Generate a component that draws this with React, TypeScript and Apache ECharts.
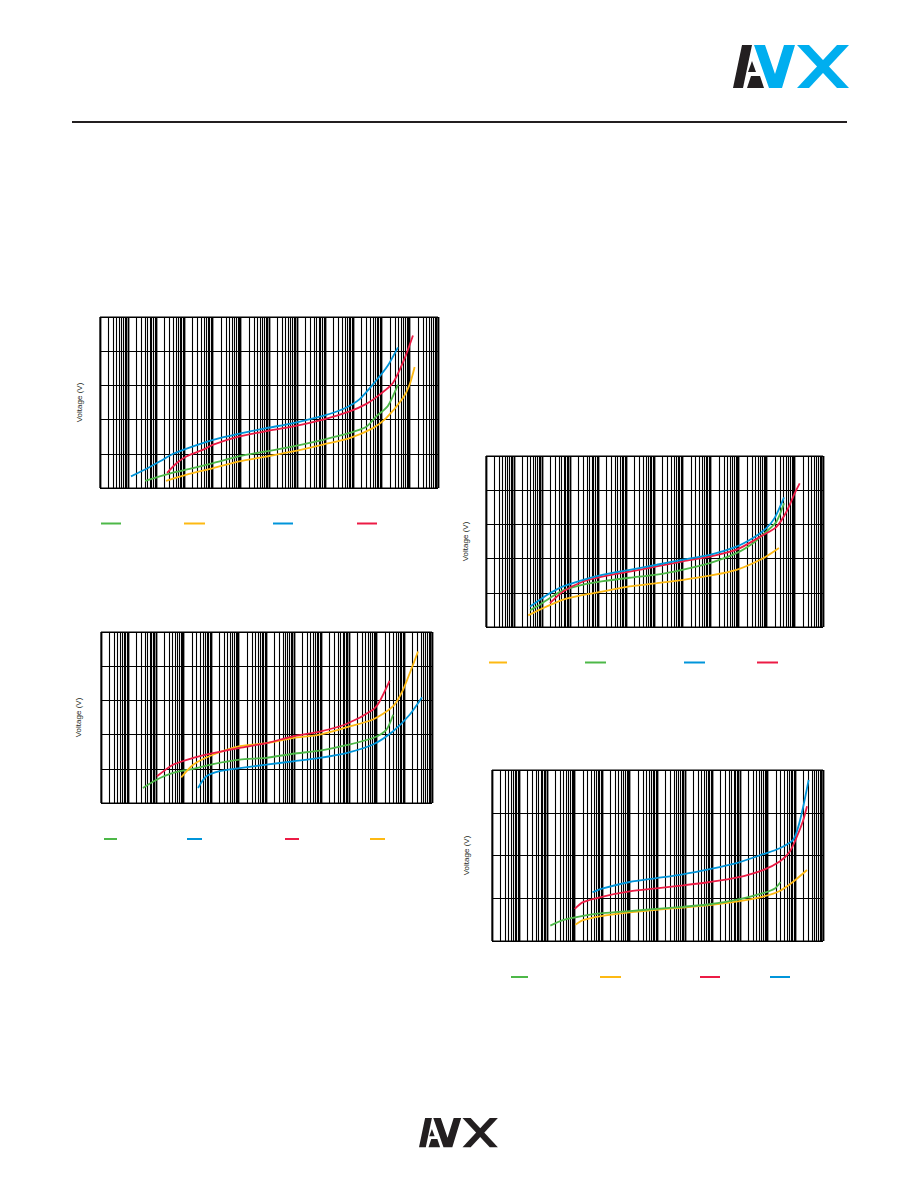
import React, { useEffect, useRef } from "react";
import * as echarts from "echarts";

// ---------- colours ----------
const GREEN = "#4DB848";
const YELLOW = "#FDB913";
const BLUE = "#0095DA";
const RED = "#EC1B45";
const LOGO_BLUE = "#00AEEF";
const INK = "#231F20";

// ---------- axis ranges ----------
const X_MIN = 1e-9; // A
const X_MAX = 1e3; // A
const Y_AXIS_NAME = "Voltage (V)";

// ---------- chart 1 (top left) ----------
const c1BlueI = [1.26e-8, 4e-8, 1.35e-7, 4e-7, 2e-6, 1.05e-5, 9e-5, 8e-4, 7.2e-3, 0.083, 0.43, 1.66, 6.5, 16.6, 38];
const c1BlueV = [6.8, 10.8, 15.6, 20, 24.4, 28.2, 31.8, 35, 38, 42.2, 46.2, 52, 63, 71.6, 82.2];
const c1RedI = [2.4e-7, 5.3e-7, 1.2e-6, 4.6e-6, 1.05e-5, 9e-5, 8e-4, 7.2e-3, 0.083, 0.73, 2.86, 8.5, 25, 66, 129];
const c1RedV = [8.8, 14.6, 18.6, 22.4, 25.4, 30.2, 33.2, 36, 40, 44.8, 49.2, 54.6, 61.4, 76, 89.2];
const c1GreenI = [4e-8, 3e-7, 2e-6, 1.05e-5, 9e-5, 8e-4, 7.2e-3, 0.083, 0.73, 2.86, 6.5, 16.6, 38];
const c1GreenV = [4.2, 8.4, 11.6, 14.6, 18.6, 21.4, 24.4, 28.2, 32.2, 35.8, 42, 48, 60.4];
const c1YellowI = [2.2e-7, 1.2e-6, 1.05e-5, 9e-5, 8e-4, 7.2e-3, 0.083, 0.73, 4.9, 14.7, 57, 98, 148];
const c1YellowV = [4.2, 7.8, 11.6, 15.6, 18.4, 21.4, 25.4, 29.2, 35, 41, 52.6, 60.4, 70.8];

// ---------- chart 2 (top right) ----------
const c2BlueI = [3.7e-8, 8.3e-8, 1.9e-7, 5.6e-7, 2.9e-6, 1.5e-5, 1.3e-4, 1.2e-3, 0.0105, 0.093, 0.83, 3.2, 9.6, 19, 41];
const c2BlueV = [12, 16, 19.8, 23.8, 27.6, 30.6, 33.4, 36.4, 39.4, 42.2, 47, 52, 57.8, 63.8, 75.8];
const c2RedI = [1.9e-7, 5.6e-7, 2.9e-6, 1.5e-5, 1.3e-4, 1.2e-3, 0.0105, 0.093, 0.83, 7.4, 22, 50, 98, 148];
const c2RedV = [14, 20.8, 26.6, 29.6, 32.4, 35.4, 38.4, 41.2, 45.2, 53.8, 58.6, 67.4, 78.2, 84];
const c2GreenI = [3.7e-8, 8.3e-8, 1.9e-7, 5.6e-7, 2.9e-6, 1.5e-5, 1.3e-4, 1.2e-3, 0.0105, 0.093, 0.83, 3.2, 9.6, 22, 41];
const c2GreenV = [9.8, 13, 17, 21.4, 24.8, 26.8, 28.8, 30.6, 33.6, 37.4, 43.2, 49, 55.8, 61.6, 72.4];
const c2YellowI = [3.2e-8, 8.3e-8, 5.6e-7, 2.9e-6, 1.5e-5, 1.3e-4, 1.2e-3, 0.0105, 0.093, 0.83, 7.4, 27];
const c2YellowV = [6.8, 10.2, 16, 18.8, 20.8, 23.8, 25.6, 27.6, 30, 33.4, 40.2, 46.2];

// ---------- chart 3 (middle left) ----------
const c3RedI = [1.07e-7, 4.1e-7, 2.2e-6, 1.15e-5, 1.07e-4, 9.8e-4, 9.1e-3, 0.085, 0.78, 7.2, 12.6, 29];
const c3RedV = [15.6, 22.4, 26.4, 29.2, 32.2, 35, 39, 41.8, 46.2, 54.6, 59.4, 71.4];
const c3YellowI = [8.1e-7, 2.2e-6, 1.15e-5, 1.07e-4, 9.8e-4, 9.1e-3, 0.085, 0.78, 7.2, 39, 89, 204, 311];
const c3YellowV = [15, 22.4, 28.2, 33.2, 35, 38, 40, 44.2, 48.8, 56.6, 66.2, 80.8, 88.6];
const c3GreenI = [3.3e-8, 1.03e-7, 4.1e-7, 2.2e-6, 1.15e-5, 1.07e-4, 9.8e-4, 9.1e-3, 0.085, 0.78, 7.2, 22, 39];
const c3GreenV = [8.8, 13.6, 17.6, 20, 22.8, 25.4, 26.4, 28.8, 30.6, 33.8, 38, 42.8, 51.6];
const c3BlueI = [3.3e-6, 6.6e-6, 2e-5, 1.07e-4, 9.8e-4, 9.1e-3, 0.085, 0.78, 7.2, 39, 155, 436];
const c3BlueV = [8.8, 15.6, 18.6, 20.4, 22.4, 24.4, 26.4, 29.2, 34.2, 42, 51.6, 61.8];

// ---------- chart 4 (bottom right) ----------
const c4BlueI = [4.4e-6, 1.05e-5, 9.8e-5, 9.1e-4, 8.3e-3, 0.078, 0.72, 6.7, 27, 81, 123, 187, 302];
const c4BlueV = [22.8, 24.6, 27.6, 29.4, 31.2, 33.6, 36.4, 40.6, 43.4, 47.2, 52.8, 62.2, 75.4];
const c4RedI = [1e-6, 2e-6, 1.05e-5, 9.8e-5, 9.1e-4, 8.3e-3, 0.078, 0.72, 6.7, 27, 62, 108, 187, 263];
const c4RedV = [15, 18.2, 20.8, 23.2, 24.6, 26, 27.6, 29.6, 33.2, 37.2, 41.8, 48.2, 56, 63];
const c4GreenI = [1.3e-7, 3.7e-7, 2e-6, 1.05e-5, 9.8e-5, 9.1e-4, 8.3e-3, 0.078, 0.72, 6.7, 18, 29];
const c4GreenV = [7.2, 9.8, 11.8, 13, 14, 15, 16, 17.2, 19.2, 22.4, 24.6, 27.6];
const c4YellowI = [1.05e-6, 2e-6, 1.05e-5, 9.8e-5, 9.1e-4, 8.3e-3, 0.078, 0.72, 6.7, 27, 81, 263];
const c4YellowV = [7.6, 9.8, 11.8, 13.4, 14.6, 15.6, 16.8, 18.4, 20.8, 23.4, 27.6, 33.2];

// ---------- chart definitions (layout) ----------
type Curve = { color: string; i: number[]; v: number[] };
type ChartDef = {
  rect: { left: number; top: number; width: number; height: number };
  yMax: number;
  nameGap: number;
  curves: Curve[];
  legendY: number;
  legend: { color: string; x1: number; x2: number }[];
};

const charts: ChartDef[] = [
  {
    rect: { left: 100, top: 317, width: 338, height: 171 },
    yMax: 100,
    nameGap: 17,
    curves: [
      { color: GREEN, i: c1GreenI, v: c1GreenV },
      { color: YELLOW, i: c1YellowI, v: c1YellowV },
      { color: RED, i: c1RedI, v: c1RedV },
      { color: BLUE, i: c1BlueI, v: c1BlueV },
    ],
    legendY: 523.5,
    legend: [
      { color: GREEN, x1: 101, x2: 121 },
      { color: YELLOW, x1: 184, x2: 205 },
      { color: BLUE, x1: 273, x2: 293 },
      { color: RED, x1: 357, x2: 377 },
    ],
  },
  {
    rect: { left: 486, top: 456, width: 337, height: 171 },
    yMax: 100,
    nameGap: 17,
    curves: [
      { color: YELLOW, i: c2YellowI, v: c2YellowV },
      { color: GREEN, i: c2GreenI, v: c2GreenV },
      { color: RED, i: c2RedI, v: c2RedV },
      { color: BLUE, i: c2BlueI, v: c2BlueV },
    ],
    legendY: 662.5,
    legend: [
      { color: YELLOW, x1: 489, x2: 507 },
      { color: GREEN, x1: 585, x2: 606 },
      { color: BLUE, x1: 684, x2: 705 },
      { color: RED, x1: 757, x2: 778 },
    ],
  },
  {
    rect: { left: 101, top: 632, width: 331, height: 171 },
    yMax: 100,
    nameGap: 19,
    curves: [
      { color: GREEN, i: c3GreenI, v: c3GreenV },
      { color: BLUE, i: c3BlueI, v: c3BlueV },
      { color: YELLOW, i: c3YellowI, v: c3YellowV },
      { color: RED, i: c3RedI, v: c3RedV },
    ],
    legendY: 839,
    legend: [
      { color: GREEN, x1: 104, x2: 117 },
      { color: BLUE, x1: 187, x2: 202 },
      { color: RED, x1: 285, x2: 299 },
      { color: YELLOW, x1: 370, x2: 385 },
    ],
  },
  {
    rect: { left: 492, top: 770, width: 331, height: 171 },
    yMax: 80,
    nameGap: 22,
    curves: [
      { color: YELLOW, i: c4YellowI, v: c4YellowV },
      { color: GREEN, i: c4GreenI, v: c4GreenV },
      { color: RED, i: c4RedI, v: c4RedV },
      { color: BLUE, i: c4BlueI, v: c4BlueV },
    ],
    legendY: 977,
    legend: [
      { color: GREEN, x1: 511, x2: 528 },
      { color: YELLOW, x1: 600, x2: 621 },
      { color: RED, x1: 700, x2: 720 },
      { color: BLUE, x1: 770, x2: 790 },
    ],
  },
];

// log-grid positions: 1..9 x 10^n for every decade of the axis; flag marks decade lines
function logGridValues(): [number, number][] {
  const out: [number, number][] = [];
  for (let n = -9; n < 3; n++) {
    for (let k = 1; k <= 9; k++) out.push([Number((k * Math.pow(10, n)).toPrecision(3)), k === 1 ? 1 : 0]);
  }
  out.push([X_MAX, 1]);
  return out;
}

// ---------- logo shapes (local coordinates, 116 x 43 box) ----------
const logoBlack: number[][][] = [
  [[0, 43], [10, 43], [19, 0], [9, 0]],
  [[15, 27], [19, 16], [23, 27]],
  [[18, 31], [27, 31], [31, 43], [14, 43]],
];
const logoColour: number[][][] = [
  [[21, 0], [32, 0], [42, 29], [51, 0], [62, 0], [49, 43], [36, 43]],
  [[64, 0], [76, 0], [116, 43], [104, 43]],
  [[104, 0], [116, 0], [76, 43], [64, 43]],
];

function logoGroup(x: number, y: number, scale: number, colour: string) {
  return {
    type: "group",
    x,
    y,
    scaleX: scale,
    scaleY: scale,
    silent: true,
    children: [
      ...logoBlack.map((pts) => ({ type: "polygon", shape: { points: pts }, style: { fill: INK } })),
      ...logoColour.map((pts) => ({ type: "polygon", shape: { points: pts }, style: { fill: colour } })),
    ],
  };
}

export default function App() {
  const ref = useRef<HTMLDivElement>(null);

  useEffect(() => {
    if (!ref.current) return;
    const chart = echarts.init(ref.current, undefined, { renderer: "svg" });
    const gridVals = logGridValues();

    const grid: any[] = [];
    const xAxis: any[] = [];
    const yAxis: any[] = [];
    const series: any[] = [];
    const graphic: any[] = [];

    charts.forEach((c, idx) => {
      grid.push({
        left: c.rect.left,
        top: c.rect.top,
        width: c.rect.width,
        height: c.rect.height,
        show: true,
        borderColor: "#000",
        borderWidth: 1,
        backgroundColor: "#fff",
      });
      xAxis.push({
        type: "log",
        logBase: 10,
        gridIndex: idx,
        min: X_MIN,
        max: X_MAX,
        axisLine: { show: false },
        axisTick: { show: false },
        axisLabel: { show: false },
        splitLine: { show: false },
      });
      yAxis.push({
        type: "value",
        gridIndex: idx,
        min: 0,
        max: c.yMax,
        interval: 20,
        name: Y_AXIS_NAME,
        nameLocation: "middle",
        nameGap: c.nameGap,
        nameRotate: 90,
        nameTextStyle: { fontFamily: "Liberation Sans, Arial, sans-serif", fontSize: 8, color: INK },
        axisLine: { show: false },
        axisTick: { show: false },
        axisLabel: { show: false },
        splitLine: { show: true, lineStyle: { color: "#000", width: 1.2 } },
      });
      // vertical log grid drawn through the x-axis scale (custom series)
      const yMax = c.yMax;
      series.push({
        type: "custom",
        xAxisIndex: idx,
        yAxisIndex: idx,
        silent: true,
        z: 1,
        encode: { x: 0, y: 1 },
        data: gridVals.map(([v, major]) => [v, 0, major]),
        renderItem: (_params: any, api: any) => {
          const v = api.value(0);
          const major = api.value(2) === 1;
          const p1 = api.coord([v, 0]);
          const p2 = api.coord([v, yMax]);
          const x = Math.round(p1[0] - 0.5) + 0.5;
          return {
            type: "line",
            shape: { x1: x, y1: p1[1], x2: x, y2: p2[1] },
            style: { stroke: "#000", lineWidth: major ? 1.8 : 1.1 },
          };
        },
      });
      c.curves.forEach((cv) => {
        series.push({
          type: "line",
          xAxisIndex: idx,
          yAxisIndex: idx,
          data: cv.i.map((x, k) => [x, cv.v[k]]),
          symbol: "none",
          smooth: 0.25,
          silent: true,
          z: 3,
          lineStyle: { color: cv.color, width: 1.8 },
        });
      });
      c.legend.forEach((l) => {
        graphic.push({
          type: "line",
          silent: true,
          shape: { x1: l.x1, y1: c.legendY, x2: l.x2, y2: c.legendY },
          style: { stroke: l.color, lineWidth: 2 },
        });
      });
    });

    // header rule
    graphic.push({
      type: "line",
      silent: true,
      shape: { x1: 72, y1: 122, x2: 847, y2: 122 },
      style: { stroke: INK, lineWidth: 2 },
    });
    // logos
    graphic.push(logoGroup(733, 45, 1, LOGO_BLUE));
    graphic.push(logoGroup(419, 1118, 0.68, INK));

    chart.setOption({
      animation: false,
      backgroundColor: "#fff",
      grid,
      xAxis,
      yAxis,
      series,
      graphic,
    });

    return () => chart.dispose();
  }, []);

  return (
    <div
      ref={ref}
      style={{ position: "absolute", left: 0, top: 0, width: 918, height: 1188, background: "#fff" }}
    />
  );
}
